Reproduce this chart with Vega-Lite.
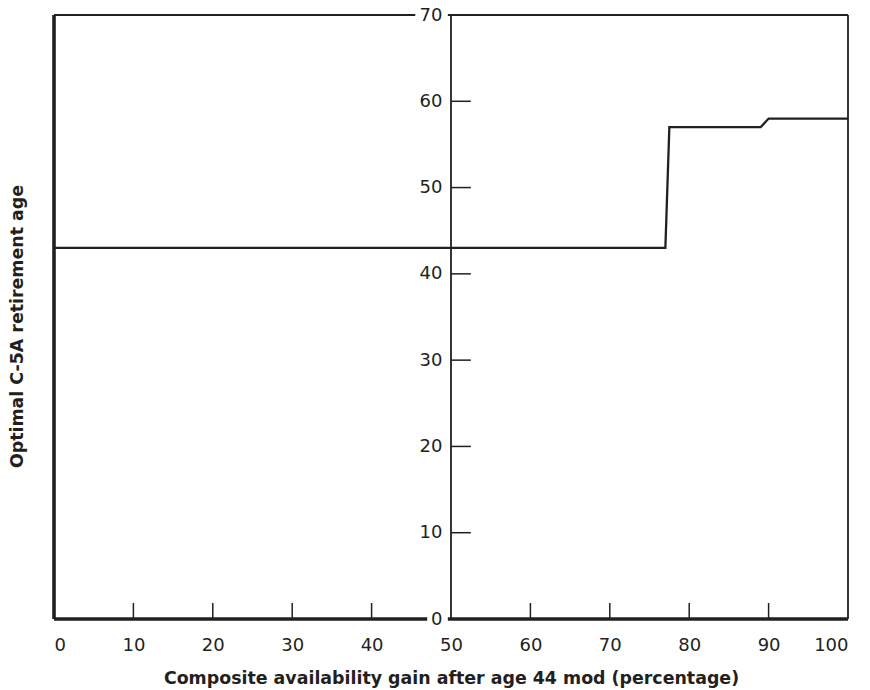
{
  "$schema": "https://vega.github.io/schema/vega-lite/v6.json",
  "width": 794,
  "height": 604,
  "autosize": {"type": "none"},
  "padding": {"left": 54, "top": 15, "right": 22, "bottom": 71},
  "background": "white",
  "config": {
    "view": {"stroke": null},
    "font": "DejaVu Sans",
    "axis": {"grid": false, "ticks": false, "domain": false, "labelColor": "#231f20", "titleColor": "#231f20", "labelFont": "DejaVu Sans", "titleFont": "DejaVu Sans", "labelFontSize": 18, "titleFontSize": 17.4, "titleFontWeight": "bold"}
  },
  "datasets": {
    "curve": [
      {"gain": 0, "age": 43},
      {"gain": 77, "age": 43},
      {"gain": 77.5, "age": 57},
      {"gain": 89, "age": 57},
      {"gain": 90, "age": 58},
      {"gain": 100, "age": 58}
    ],
    "thickFrame": [
      {"gain": 0, "age": 0, "gain2": 0, "age2": 70},
      {"gain": 0, "age": 0, "gain2": 47, "age2": 0},
      {"gain": 49.6, "age": 0, "gain2": 100, "age2": 0}
    ],
    "thinFrame": [
      {"gain": 0, "age": 70, "gain2": 45.5, "age2": 70},
      {"gain": 49.6, "age": 70, "gain2": 100, "age2": 70},
      {"gain": 100, "age": 0, "gain2": 100, "age2": 70},
      {"gain": 50, "age": 0, "gain2": 50, "age2": 70}
    ],
    "ticks": [
      {"gain": 50, "age": 10, "gain2": 52.5, "age2": 10},
      {"gain": 50, "age": 20, "gain2": 52.5, "age2": 20},
      {"gain": 50, "age": 30, "gain2": 52.5, "age2": 30},
      {"gain": 50, "age": 40, "gain2": 52.5, "age2": 40},
      {"gain": 50, "age": 50, "gain2": 52.5, "age2": 50},
      {"gain": 50, "age": 60, "gain2": 52.5, "age2": 60},
      {"gain": 10, "age": 0, "gain2": 10, "age2": 1.85},
      {"gain": 20, "age": 0, "gain2": 20, "age2": 1.85},
      {"gain": 30, "age": 0, "gain2": 30, "age2": 1.85},
      {"gain": 40, "age": 0, "gain2": 40, "age2": 1.85},
      {"gain": 60, "age": 0, "gain2": 60, "age2": 1.85},
      {"gain": 70, "age": 0, "gain2": 70, "age2": 1.85},
      {"gain": 80, "age": 0, "gain2": 80, "age2": 1.85},
      {"gain": 90, "age": 0, "gain2": 90, "age2": 1.85}
    ]
  },
  "encoding": {
    "x": {"field": "gain", "type": "quantitative", "scale": {"domain": [0, 100], "nice": false},
      "axis": {"orient": "bottom", "values": [0, 10, 20, 30, 40, 50, 60, 70, 80, 90, 100], "labelPadding": 17, "title": "Composite availability gain after age 44 mod (percentage)", "titleBaseline": "alphabetic", "titleY": 64}},
    "y": {"field": "age", "type": "quantitative", "scale": {"domain": [0, 70], "nice": false},
      "axis": {"orient": "left", "offset": -398, "values": [0, 10, 20, 30, 40, 50, 60, 70], "labelPadding": 10, "title": "Optimal C-5A retirement age", "titleBaseline": "alphabetic", "titleX": -430, "titleY": 311}}
  },
  "layer": [
    {
      "data": {"name": "curve"},
      "mark": {"type": "line", "color": "#231f20", "strokeWidth": 2.3, "strokeJoin": "miter"}
    },
    {
      "data": {"name": "thickFrame"},
      "mark": {"type": "rule", "color": "#231f20", "strokeWidth": 3.6},
      "encoding": {"x2": {"field": "gain2"}, "y2": {"field": "age2"}}
    },
    {
      "data": {"name": "thinFrame"},
      "mark": {"type": "rule", "color": "#231f20", "strokeWidth": 1.8},
      "encoding": {"x2": {"field": "gain2"}, "y2": {"field": "age2"}}
    },
    {
      "data": {"name": "ticks"},
      "mark": {"type": "rule", "color": "#231f20", "strokeWidth": 1.5},
      "encoding": {"x2": {"field": "gain2"}, "y2": {"field": "age2"}}
    }
  ]
}
